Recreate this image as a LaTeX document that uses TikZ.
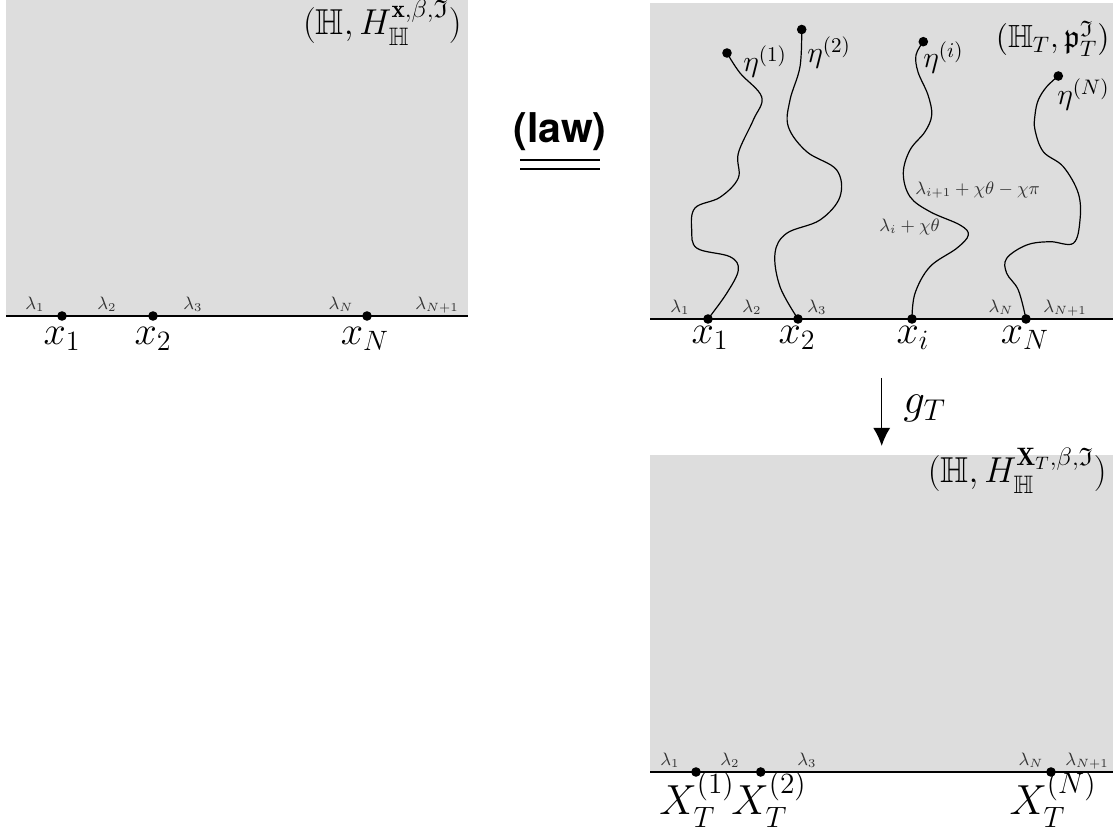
\documentclass[tikz,border=0pt]{standalone}
\usepackage{fix-cm}
\usepackage{amsmath,amssymb}
\usepackage{fontspec}
\newfontfamily\lawfont{TeX Gyre Heros}
\usetikzlibrary{arrows.meta}
\begin{document}
\begin{tikzpicture}[x=0.5pt,y=-0.5pt,
  panel/.style={fill=gray!27,draw=none},
  base/.style={line width=0.9pt},
  dot/.style={circle,fill=black,inner sep=0pt,minimum size=4.8pt},
  lam/.style={font=\fontsize{9}{11}\selectfont,text=black!80,anchor=base,inner sep=0pt},
  ptl/.style={font=\fontsize{20}{24}\selectfont,anchor=base,inner sep=0pt},
  ttl/.style={font=\fontsize{18}{21}\selectfont,anchor=base east,inner sep=0pt},
  etal/.style={font=\fontsize{15}{18}\selectfont,anchor=base west,inner sep=0pt},
  cvl/.style={font=\fontsize{9}{11}\selectfont,text=black!80,anchor=base west,inner sep=0pt},
  crv/.style={line width=0.6pt},
]
\useasboundingbox (0,0) rectangle (1120,833);
% ---------- top-left panel
\fill[panel] (6,0) rectangle (468,316);
\coordinate (tlA) at (6,316);
\coordinate (tlB) at (468,316);
\draw[base] (tlA) -- (tlB);
\node[dot] (a1) at (62,316) {};
\node[dot] (a2) at (153,316) {};
\node[dot] (aN) at (367,316) {};
\node[lam] (al1) at (35,310) {$\lambda_1$};
\node[lam] (al2) at (107,310) {$\lambda_2$};
\node[lam] (al3) at (193,310) {$\lambda_3$};
\node[lam] (alN) at (341,310) {$\lambda_N$};
\node[lam] (alN1) at (437,310) {$\lambda_{N+1}$};
\node[ptl] (ax1) at (62,345) {$x_1$};
\node[ptl] (ax2) at (153,345) {$x_2$};
\node[ptl] (axN) at (365,345) {$x_N$};
\node[ttl] (at) at (462,35) {$(\mathbb{H},H_{\mathbb{H}}^{\mathbf{x},\beta,\mathfrak{I}})$};
% ---------- (law)
\node[font=\lawfont\bfseries\fontsize{20.5}{24}\selectfont] (law) at (560,132) {(law)};
\coordinate (lwA) at (520,160);
\coordinate (lwB) at (600,160);
\coordinate (lwC) at (520,169);
\coordinate (lwD) at (600,169);
\draw[line width=1.4pt] (lwA) -- (lwB);
\draw[line width=1.4pt] (lwC) -- (lwD);
% ---------- top-right panel
\fill[panel] (650,3) rectangle (1113,319);
\coordinate (trA) at (650,319);
\coordinate (trB) at (1113,319);
\draw[base] (trA) -- (trB);
\node[dot] (b1) at (708,319) {};
\node[dot] (b2) at (798,319) {};
\node[dot] (bi) at (912,319) {};
\node[dot] (bN) at (1026,319) {};
\node[dot] (t1) at (727,53) {};
\node[dot] (t2) at (801.7,29.5) {};
\node[dot] (ti) at (923.3,41.7) {};
\node[dot] (tN) at (1058.3,76) {};
\draw[crv] plot[smooth,tension=0.6] coordinates {(b1) (726.7,293.3) (738.3,270) (730,256.7) (697,248.3) (691.7,230) (695,208) (720,197.3) (738.3,178) (738.3,153.3) (753.3,120) (761.7,97) (740,73) (t1)};
\draw[crv] plot[smooth,tension=0.6] coordinates {(b2) (780,286.7) (775,253.3) (786.7,233.3) (820,220) (840,196.7) (836.7,170) (806.7,151.7) (788.3,126.7) (790,100) (800,66.7) (t2)};
\draw[crv] plot[smooth,tension=0.6] coordinates {(bi) (915,293.3) (930,266.7) (956.7,248.3) (968.3,235) (960,225) (930,211.7) (910,196.7) (903.3,173.3) (910,150) (925,131.7) (931.7,115) (928,95) (918,72) (916,55) (ti)};
\draw[crv] plot[smooth,tension=0.6] coordinates {(bN) (1018.3,290) (1006.7,273.3) (1006.7,258.3) (1026.7,245) (1050,241.7) (1073.3,243.3) (1080,220) (1078.3,193.3) (1063.3,166.7) (1043.3,151.7) (1035,130) (1035,115) (1038.3,100) (1046.7,86.7) (tN)};
\node[lam] (bl1) at (680,313) {$\lambda_1$};
\node[lam] (bl2) at (752,313) {$\lambda_2$};
\node[lam] (bl3) at (817,313) {$\lambda_3$};
\node[lam] (blN) at (1001,313) {$\lambda_N$};
\node[lam] (blN1) at (1065,313) {$\lambda_{N+1}$};
\node[ptl] (bx1) at (710,344) {$x_1$};
\node[ptl] (bx2) at (797,344) {$x_2$};
\node[ptl] (bxi) at (913,344) {$x_i$};
\node[ptl] (bxN) at (1025,344) {$x_N$};
\node[etal] (e1) at (743,72) {$\eta^{(1)}$};
\node[etal] (e2) at (807,63) {$\eta^{(2)}$};
\node[etal] (ei) at (923,68) {$\eta^{(i)}$};
\node[etal] (eN) at (1057,105) {$\eta^{(N)}$};
\node[cvl] (c1) at (915,195) {$\lambda_{i+1}+\chi\theta-\chi\pi$};
\node[cvl] (c2) at (879,232) {$\lambda_i+\chi\theta$};
\node[ttl,font=\fontsize{16}{19}\selectfont] (bt) at (1110,48) {$(\mathbb{H}_T,\mathfrak{p}_T^{\mathfrak{I}})$};
% ---------- arrow g_T
\coordinate (gA) at (881.7,378);
\coordinate (gB) at (881.7,446);
\draw[line width=0.75pt,-{Latex[length=9pt,width=8.5pt]}] (gA) -- (gB);
\node[font=\fontsize{21.5}{24}\selectfont,anchor=base west,inner sep=0pt] (gT) at (903,414) {$g_T$};
% ---------- bottom panel
\fill[panel] (650,455) rectangle (1113,772);
\coordinate (bpA) at (650,772);
\coordinate (bpB) at (1113,772);
\draw[base] (bpA) -- (bpB);
\node[dot] (c1d) at (696,772) {};
\node[dot] (c2d) at (760.7,772) {};
\node[dot] (cNd) at (1051,772) {};
\node[lam] (cl1) at (670,766) {$\lambda_1$};
\node[lam] (cl2) at (730,766) {$\lambda_2$};
\node[lam] (cl3) at (807,766) {$\lambda_3$};
\node[lam] (clN) at (1031,766) {$\lambda_N$};
\node[lam] (clN1) at (1087,766) {$\lambda_{N+1}$};
\node[ptl,font=\fontsize{21}{24}\selectfont] (X1) at (697,815) {$X_T^{(1)}$};
\node[ptl,font=\fontsize{21}{24}\selectfont] (X2) at (769,815) {$X_T^{(2)}$};
\node[ptl,font=\fontsize{21}{24}\selectfont] (XN) at (1053,815) {$X_T^{(N)}$};
\node[ttl] (ct) at (1107,483) {$(\mathbb{H},H_{\mathbb{H}}^{\mathbf{X}_T,\beta,\mathfrak{I}})$};
\end{tikzpicture}
\end{document}
